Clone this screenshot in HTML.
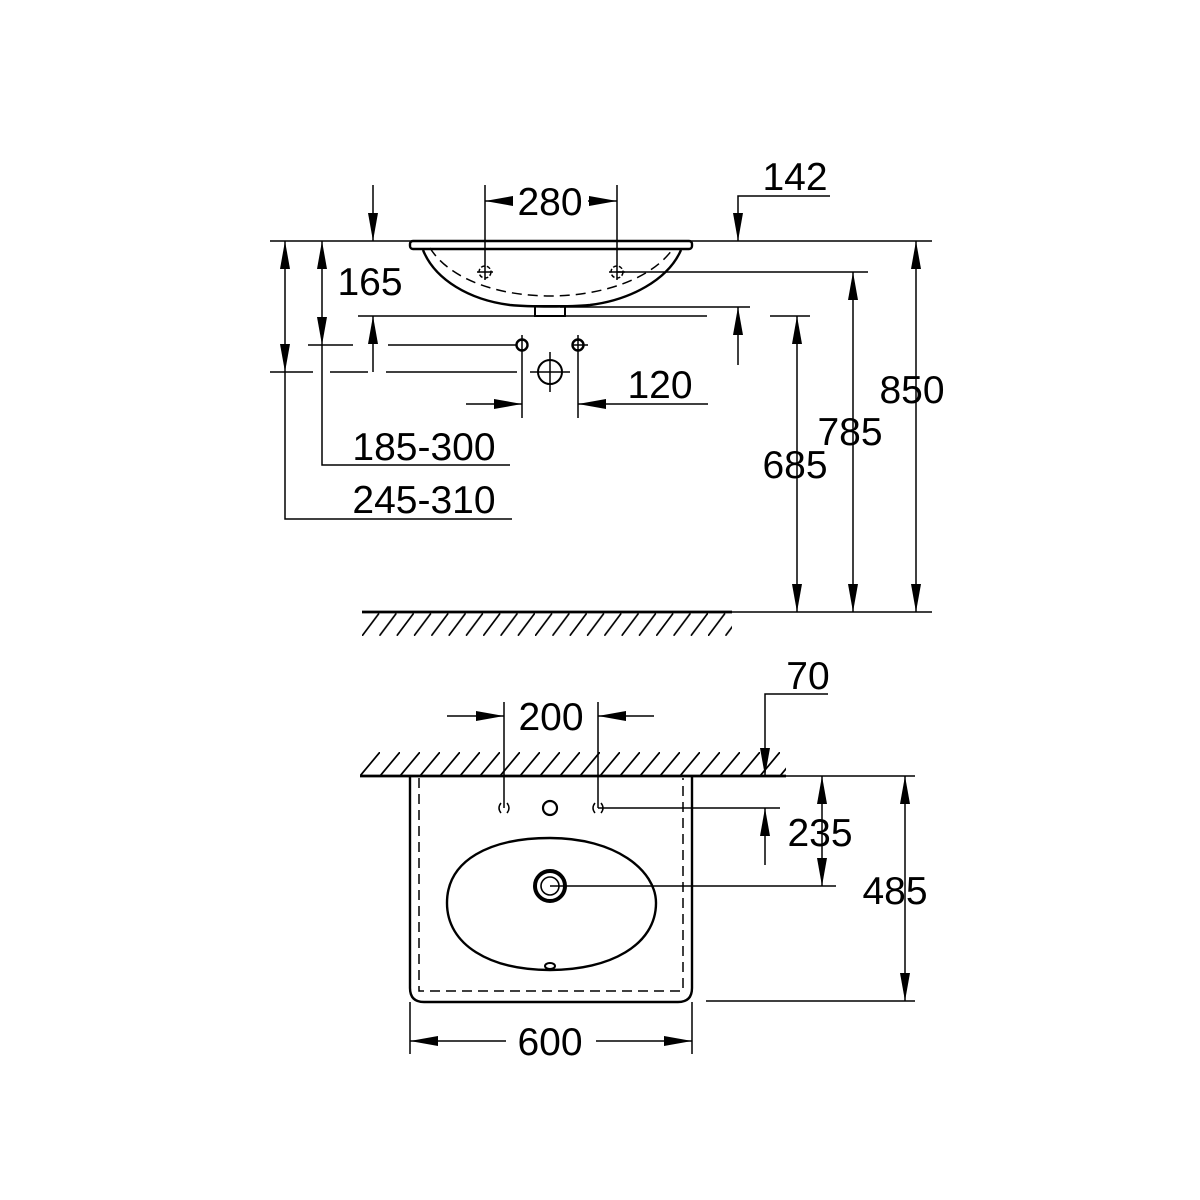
<!DOCTYPE html>
<html><head><meta charset="utf-8"><style>html,body{margin:0;padding:0;background:#fff}svg{display:block}text{font-family:"Liberation Sans",sans-serif;font-size:39px;fill:#000}</style></head><body>
<svg width="1200" height="1200" viewBox="0 0 1200 1200" xmlns="http://www.w3.org/2000/svg">
<defs>
<marker id="a" viewBox="0 0 28 10" refX="28" refY="5" markerWidth="28" markerHeight="10" markerUnits="userSpaceOnUse" orient="auto"><path d="M0,0L28,5L0,10Z" fill="#000"/></marker>
<marker id="b" viewBox="0 0 28 10" refX="0" refY="5" markerWidth="28" markerHeight="10" markerUnits="userSpaceOnUse" orient="auto"><path d="M28,0L0,5L28,10Z" fill="#000"/></marker>
<pattern id="h1" x="362" y="613" width="17.3" height="23" patternUnits="userSpaceOnUse"><line x1="0" y1="23" x2="17.3" y2="0" stroke="#000" stroke-width="1.7"/></pattern>
<pattern id="h2" x="360" y="752" width="20" height="24" patternUnits="userSpaceOnUse"><line x1="0" y1="24" x2="20" y2="0" stroke="#000" stroke-width="1.7"/></pattern>
</defs>
<g stroke="#000" fill="none" stroke-width="1.5">
<line x1="270" y1="241" x2="932" y2="241"/>
<rect x="410" y="241" width="282" height="8" rx="3" stroke-width="2.4"/>
<path d="M423,250 C435,280 470,300 510,305 C530,307 570,307 590,305 C630,300 668,280 681,250" stroke-width="2.4"/>
<path d="M430,248 C450,280 500,296 550,296 C600,296 650,280 672,250" stroke-dasharray="10,6"/>
<rect x="535" y="306" width="30" height="10" stroke-width="2"/>
<circle cx="485" cy="272" r="6" stroke-dasharray="4,2"/><circle cx="617" cy="272" r="6" stroke-dasharray="4,2"/>
<line x1="477" y1="272" x2="493" y2="272"/><line x1="609" y1="272" x2="625" y2="272"/>
<line x1="485" y1="185" x2="485" y2="280"/><line x1="617" y1="185" x2="617" y2="280"/>
<line x1="512" y1="201" x2="485" y2="201" marker-end="url(#a)"/><line x1="588" y1="201" x2="617" y2="201" marker-end="url(#a)"/>
<line x1="373" y1="185" x2="373" y2="241" marker-end="url(#a)"/>
<line x1="358" y1="316" x2="707" y2="316"/>
<line x1="560" y1="307" x2="750" y2="307"/>
<line x1="373" y1="372" x2="373" y2="316" marker-end="url(#a)"/>
<line x1="738" y1="365" x2="738" y2="307" marker-end="url(#a)"/>
<polyline points="830,196 738,196 738,241" marker-end="url(#a)"/>
<circle cx="522" cy="345" r="5.5" stroke-width="2.4"/><circle cx="578" cy="345" r="5.5" stroke-width="2.4"/>
<circle cx="550" cy="372" r="12" stroke-width="2"/>
<line x1="530" y1="372" x2="570" y2="372"/><line x1="550" y1="352" x2="550" y2="392"/>
<line x1="572" y1="345" x2="588" y2="345"/>
<line x1="308" y1="345" x2="353" y2="345"/><line x1="388" y1="345" x2="517" y2="345"/>
<line x1="270" y1="372" x2="313" y2="372"/><line x1="330" y1="372" x2="368" y2="372"/><line x1="386" y1="372" x2="517" y2="372"/>
<line x1="522" y1="335" x2="522" y2="418"/><line x1="578" y1="335" x2="578" y2="418"/>
<line x1="466" y1="404" x2="522" y2="404" marker-end="url(#a)"/><line x1="708" y1="404" x2="578" y2="404" marker-end="url(#a)"/>
<line x1="322" y1="241" x2="322" y2="345" marker-start="url(#b)" marker-end="url(#a)"/>
<line x1="285" y1="241" x2="285" y2="372" marker-start="url(#b)" marker-end="url(#a)"/>
<polyline points="322,345 322,465 510,465"/>
<polyline points="285,372 285,519 512,519"/>
<line x1="617" y1="272" x2="868" y2="272"/>
<line x1="770" y1="316" x2="810" y2="316"/>
<line x1="797" y1="316" x2="797" y2="612" marker-start="url(#b)" marker-end="url(#a)"/>
<line x1="853" y1="272" x2="853" y2="612" marker-start="url(#b)" marker-end="url(#a)"/>
<line x1="916" y1="241" x2="916" y2="612" marker-start="url(#b)" marker-end="url(#a)"/>
<line x1="362" y1="612" x2="732" y2="612" stroke-width="2.8"/>
<line x1="732" y1="612" x2="932" y2="612"/>
<rect x="362" y="613" width="370" height="23" fill="url(#h1)" stroke="none"/>
<rect x="360" y="752" width="426" height="24" fill="url(#h2)" stroke="none"/>
<line x1="360" y1="776" x2="786" y2="776" stroke-width="2.8"/>
<line x1="786" y1="776" x2="915" y2="776"/>
<path d="M410,776 L410,988 Q410,1002 424,1002 L678,1002 Q692,1002 692,988 L692,776" stroke-width="2.4"/>
<path d="M419,778 L419,991 L683,991 L683,778" stroke-dasharray="10,6"/>
<path d="M501,803 Q497,808 501,813 M507,803 Q511,808 507,813 M595,803 Q591,808 595,813 M601,803 Q605,808 601,813"/>
<circle cx="550" cy="808" r="7" stroke-width="2.2"/>
<path d="M447,903 C447,860 490,838 550,838 C615,838 656,870 656,903 C656,945 610,970 550,970 C490,970 447,945 447,903Z" stroke-width="2.4"/>
<circle cx="550" cy="886" r="15" stroke-width="4"/><circle cx="550" cy="886" r="9" stroke-width="1.6"/>
<ellipse cx="550" cy="966" rx="5" ry="3" stroke-width="2"/>
<line x1="504" y1="702" x2="504" y2="808"/><line x1="598" y1="702" x2="598" y2="808"/>
<line x1="447" y1="716" x2="504" y2="716" marker-end="url(#a)"/><line x1="654" y1="716" x2="598" y2="716" marker-end="url(#a)"/>
<polyline points="828,694 765,694 765,776" marker-end="url(#a)"/>
<line x1="598" y1="808" x2="780" y2="808"/>
<line x1="765" y1="865" x2="765" y2="808" marker-end="url(#a)"/>
<line x1="550" y1="886" x2="836" y2="886"/>
<line x1="822" y1="776" x2="822" y2="886" marker-start="url(#b)" marker-end="url(#a)"/>
<line x1="706" y1="1001" x2="915" y2="1001"/>
<line x1="905" y1="776" x2="905" y2="1001" marker-start="url(#b)" marker-end="url(#a)"/>
<line x1="410" y1="1002" x2="410" y2="1054"/><line x1="692" y1="1002" x2="692" y2="1054"/>
<line x1="506" y1="1041" x2="410" y2="1041" marker-end="url(#a)"/><line x1="596" y1="1041" x2="692" y2="1041" marker-end="url(#a)"/>
</g>
<g text-anchor="middle">
<text x="550" y="215">280</text>
<text x="795" y="190">142</text>
<text x="370" y="295">165</text>
<text x="660" y="398">120</text>
<text x="424" y="460">185-300</text>
<text x="424" y="513">245-310</text>
<text x="795" y="478">685</text>
<text x="850" y="445">785</text>
<text x="912" y="403">850</text>
<text x="551" y="730">200</text>
<text x="808" y="689">70</text>
<text x="820" y="846">235</text>
<text x="895" y="904">485</text>
<text x="550" y="1055">600</text>
</g>
</svg>
</body></html>
